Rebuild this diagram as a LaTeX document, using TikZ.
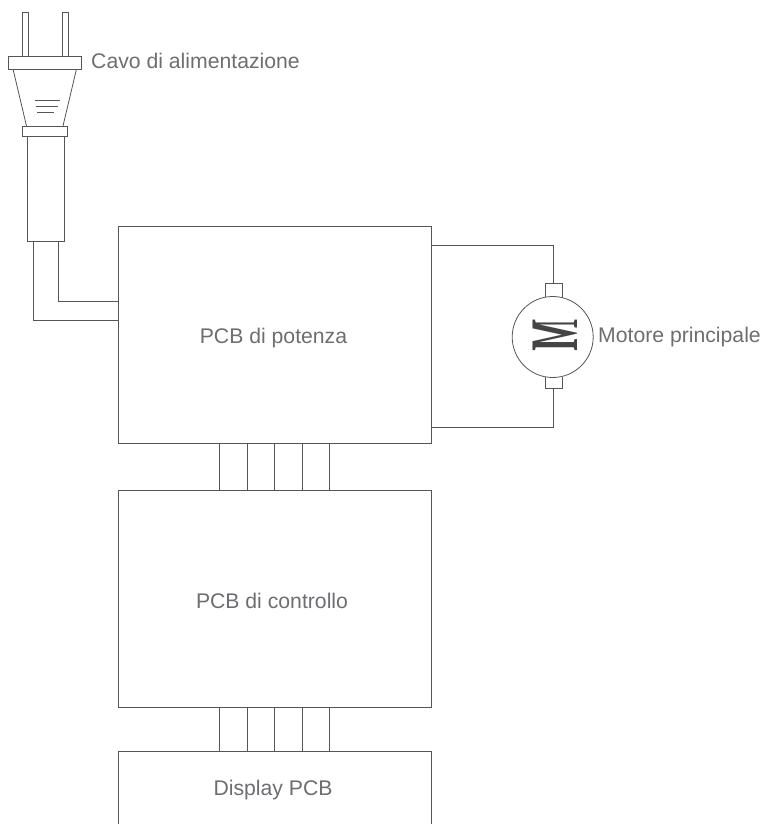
\documentclass[tikz,border=0pt]{standalone}
\usepackage{fontspec}
\setmainfont{Liberation Sans}
\newfontfamily\mserif{Liberation Serif}
\definecolor{ln}{HTML}{555555}
\definecolor{tx}{HTML}{6D6E71}
\tikzset{
  wire/.style={draw=ln,line width=0.8pt},
  pcbbox/.style={wire,fill=white},
  lab/.style={text=tx,font=\fontsize{21.2}{25}\selectfont,inner sep=0pt,anchor=base},
}
\begin{document}
\begin{tikzpicture}[x=1pt,y=-1pt]
\useasboundingbox (0,0) rectangle (765,824);
% PCB boxes
\draw[pcbbox] (118,226) rectangle (431,443);
\node[lab] (pot) at (273.5,343) {PCB di potenza};
\draw[pcbbox] (118,490) rectangle (431,707);
\node[lab] (ctl) at (272,608) {PCB di controllo};
\draw[wire] (118,823.5) -- (118,751.5) -- (431,751.5) -- (431,823.5);
\node[lab] (dsp) at (273,795) {Display PCB};
% buses
\foreach \x in {219.5,247,274.5,302,329.5}{
  \draw[wire] (\x,443) -- (\x,490);
  \draw[wire] (\x,707) -- (\x,751.5);
}
% plug
\draw[wire] (22.5,56) -- (22.5,12.5) -- (28,12.5) -- (28,56);
\draw[wire] (62.5,56) -- (62.5,12.5) -- (68.5,12.5) -- (68.5,56);
\draw[wire] (8.5,56) rectangle (81,69);
\draw[wire] (13,69) -- (26.5,126);
\draw[wire] (76.5,69) -- (63,126);
\draw[wire,line width=0.6pt] (35,100.5) -- (60,100.5) (35.5,106.5) -- (58,106.5) (37,112.5) -- (54,112.5);
\draw[wire] (22,126) rectangle (67.5,136.5);
\draw[wire] (27,136.5) rectangle (64,241);
\draw[wire] (26.5,182) -- (27.5,182) (63.5,200) -- (64.5,200);
\draw[wire] (33,241) -- (33,320) -- (118,320);
\draw[wire] (58.5,241) -- (58.5,301.5) -- (118,301.5);
\node[lab,anchor=base west] (cavo) at (91,68.5) {Cavo di alimentazione};
% motor
\draw[wire] (431,245) -- (553.5,245) -- (553.5,283);
\draw[wire] (545,298) -- (545,283.5) -- (562.5,283.5) -- (562.5,298);
\draw[wire] (431,427) -- (553.5,427) -- (553.5,388);
\draw[wire] (545,377) -- (545,388) -- (562.5,388) -- (562.5,377);
\draw[wire,fill=white] (552.7,337) circle (40.5);
\node[inner sep=0pt,text=ln!80!black,rotate=-90,yscale=-2.0,font=\mserif\bfseries\fontsize{34}{40}\selectfont] (mm) at (555,336) {M};
\node[lab,anchor=base west] (mot) at (598,342) {Motore principale};
\end{tikzpicture}
\end{document}
